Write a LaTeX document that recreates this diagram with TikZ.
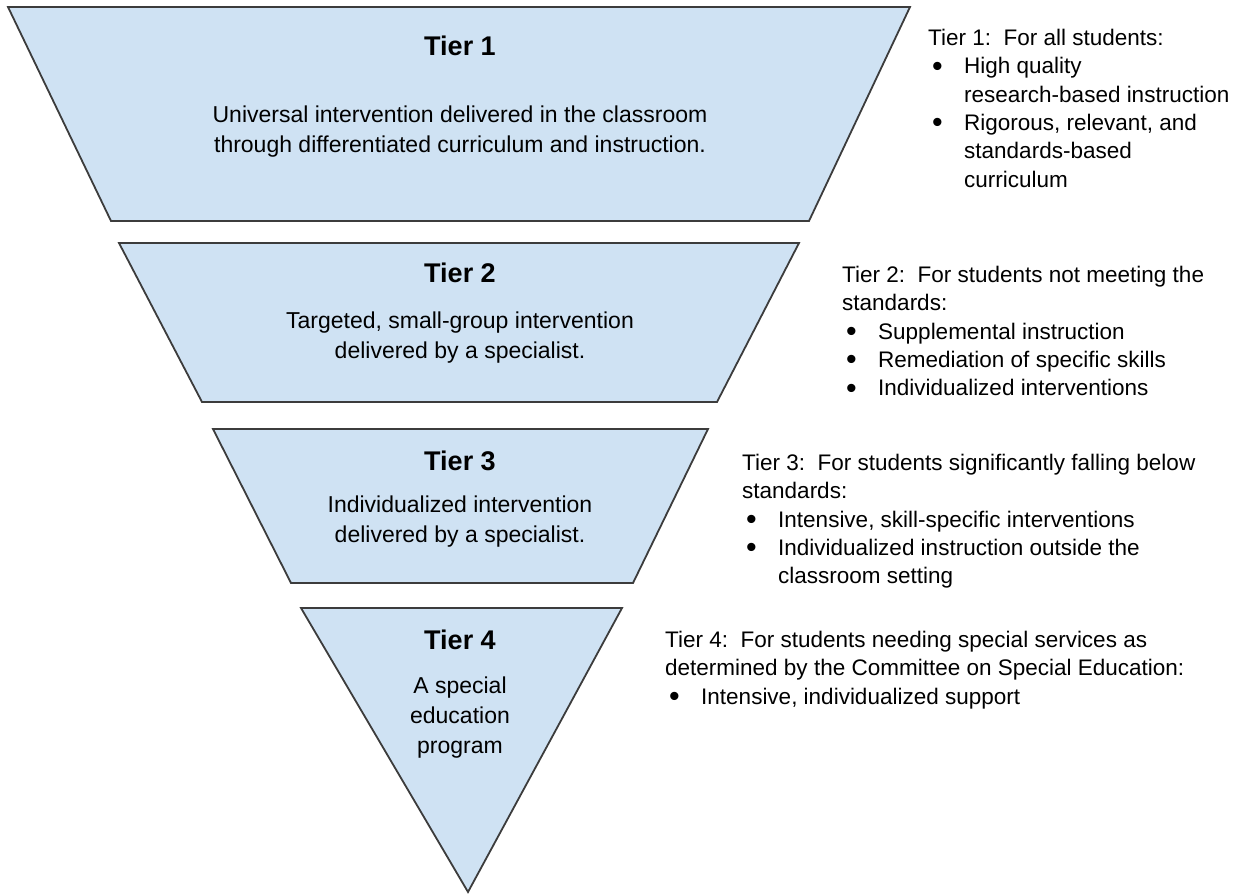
\documentclass[tikz,border=0pt]{standalone}
\usepackage{fontspec}
\setmainfont{Liberation Sans}
\definecolor{tierfill}{HTML}{CFE2F3}
\definecolor{tierline}{HTML}{3C3C3C}
\newcommand{\bul}{\makebox[36pt][l]{\hspace{4pt}\raisebox{-2.5pt}{\scalebox{1.35}{\textbullet}}}}
\newcommand{\cont}{\hspace*{36pt}}
\tikzset{
  tier/.style={draw=tierline, fill=tierfill, line width=1.8pt},
  tiertitle/.style={font=\fontsize{27}{30}\selectfont\bfseries, anchor=base, inner sep=0pt},
  tierbody/.style={font=\fontsize{23}{30}\selectfont, align=center, anchor=north, inner sep=0pt},
  notes/.style={font=\fontsize{22.5}{28.3}\selectfont, align=left, anchor=north west, inner sep=0pt}
}
\begin{document}
\begin{tikzpicture}[x=1pt, y=-1pt]
    \useasboundingbox (0,0) rectangle (1244,896);
    % the four tiers of the funnel
    \draw[tier] (8,7) -- (910,7) -- (809,221) -- (111,221) -- cycle;
    \draw[tier] (119,243) -- (799,243) -- (717,402) -- (202,402) -- cycle;
    \draw[tier] (213,429) -- (708,429) -- (633,583) -- (291,583) -- cycle;
    \draw[tier] (301,608) -- (622,608) -- (468,892) -- cycle;
    % texts inside
    \node[tiertitle] (t1) at (460,56) {Tier 1};
    \node[tierbody] (t1b) at (460,105.5) {Universal intervention delivered in the classroom\\through differentiated curriculum and instruction.};
    \node[tiertitle] (t2) at (460,282) {Tier 2};
    \node[tierbody] (t2b) at (460,311.5) {Targeted, small-group intervention\\delivered by a specialist.};
    \node[tiertitle] (t3) at (460,470) {Tier 3};
    \node[tierbody] (t3b) at (460,495.5) {Individualized intervention\\delivered by a specialist.};
    \node[tiertitle] (t4) at (460,649) {Tier 4};
    \node[tierbody] (t4b) at (460,676.5) {A special\\education\\program};
    % notes on the right
    \node[notes] (n1) at (928,29) {Tier 1:\ \ For all students:\\
        \bul High quality\\ \cont research-based instruction\\
        \bul Rigorous, relevant, and\\ \cont standards-based\\ \cont curriculum};
    \node[notes] (n2) at (842,266) {Tier 2:\ \ For students not meeting the\\standards:\\
        \bul Supplemental instruction\\ \bul Remediation of specific skills\\
        \bul Individualized interventions};
    \node[notes] (n3) at (742,454) {Tier 3:\ \ For students significantly falling below\\standards:\\
        \bul Intensive, skill-specific interventions\\
        \bul Individualized instruction outside the\\ \cont classroom setting};
    \node[notes] (n4) at (665,631) {Tier 4:\ \ For students needing special services as\\
        determined by the Committee on Special Education:\\
        \bul Intensive, individualized support};
\end{tikzpicture}
\end{document}
